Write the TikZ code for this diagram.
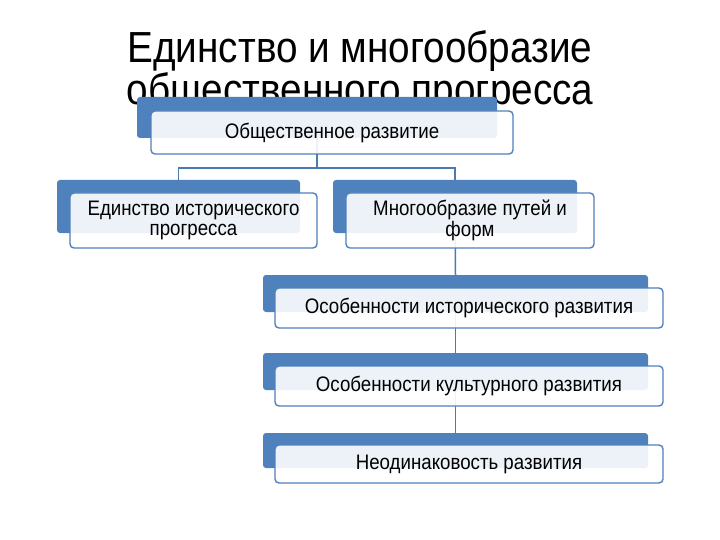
\documentclass[tikz,border=0pt]{standalone}
\usepackage{fontspec}
\setmainfont[FakeStretch=0.89]{Liberation Sans}
\definecolor{backblue}{HTML}{4F81BD}
\definecolor{lineblue}{HTML}{4A7AB5}

\begin{document}
\begin{tikzpicture}[x=1pt,y=-1pt,
	backbox/.style={fill=backblue, rounded corners=3pt, inner sep=0pt},
	frontbox/.style={draw=backblue, line width=1.4pt, fill=white, fill opacity=0.9, text opacity=1,
		rounded corners=4pt, inner sep=0pt, align=center, font=\fontsize{21}{19.5}\selectfont},
	conn/.style={draw=lineblue, line width=1.5pt}]
			%%%%% START %%%%%
			
			\fill[white] (0, 0) rectangle (720, 540);
			
			% title
			\node[anchor=base, font=\fontsize{43.5}{44}\selectfont] (title1) at (360, 63) {Единство и многообразие};
			\node[anchor=base, font=\fontsize{43.5}{44}\selectfont] (title2) at (360, 105) {общественного прогресса};
			
			% back boxes
			\node[backbox, minimum width=360pt, minimum height=41pt] (b1) at (317, 117.5) {};
			\node[backbox, minimum width=243pt, minimum height=53pt] (b2) at (178.5, 206.5) {};
			\node[backbox, minimum width=244pt, minimum height=53pt] (b3) at (455, 206.5) {};
			\node[backbox, minimum width=385pt, minimum height=37pt] (b4) at (455.5, 293.5) {};
			\node[backbox, minimum width=385pt, minimum height=37pt] (b5) at (455.5, 371.5) {};
			\node[backbox, minimum width=385pt, minimum height=35pt] (b6) at (455.5, 450.5) {};
			
			% connectors
			\coordinate (j) at (317, 168);
			\draw[conn] (b1.center) -- (j) -| (b2.north);
			\draw[conn] (j) -| (b3.north);
			\draw[conn] (b3.center) -- (b4.north);
			\draw[conn] (b4.center) -- (b5.north);
			\draw[conn] (b5.center) -- (b6.north);
			
			% front boxes
			\node[frontbox, minimum width=362pt, minimum height=43pt] (f1) at (332, 132.5) {Общественное развитие};
			\node[frontbox, minimum width=247pt, minimum height=55pt] (f2) at (193.5, 220.5) {Единство исторического\\прогресса};
			\node[frontbox, minimum width=248pt, minimum height=55pt] (f3) at (470, 220.5) {Многообразие путей и\\форм};
			\node[frontbox, minimum width=388pt, minimum height=40pt] (f4) at (469, 308) {Особенности исторического развития};
			\node[frontbox, minimum width=388pt, minimum height=40pt] (f5) at (469, 386) {Особенности культурного развития};
			\node[frontbox, minimum width=388pt, minimum height=38pt] (f6) at (469, 464) {Неодинаковость развития};
			
			%%%%% END %%%%%
		\end{tikzpicture}
\end{document}
